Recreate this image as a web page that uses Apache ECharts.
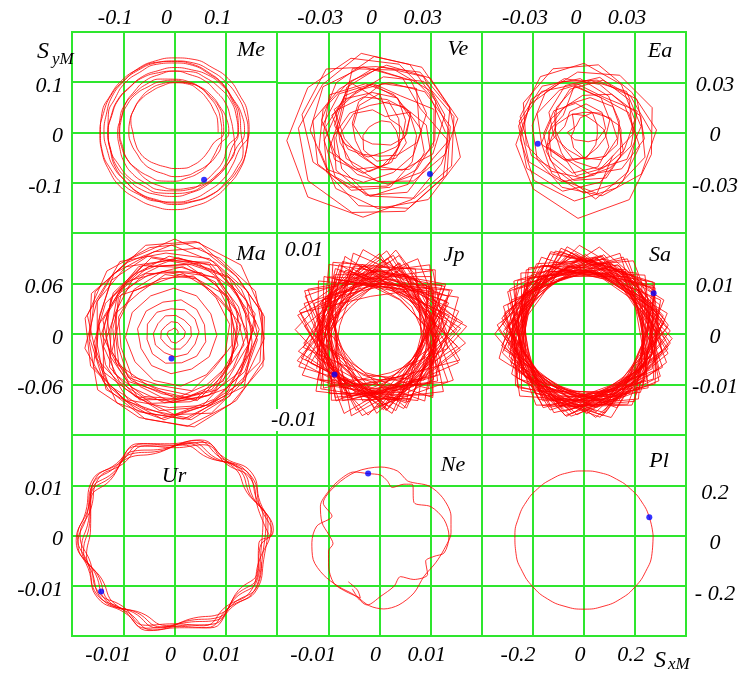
<!DOCTYPE html>
<html><head><meta charset="utf-8">
<script src="https://cdn.jsdelivr.net/npm/echarts@6/dist/echarts.min.js"></script>
<style>html,body{margin:0;padding:0;background:#fff}#c{width:749px;height:673px}</style>
</head><body><div id="c"></div>
<script>
// ---- tick labels (ascending value order) ----
const meXLabels=['-0.1','0','0.1'], meYLabels=['-0.1','0','0.1'];
const veXLabels=['-0.03','0','0.03'];
const eaXLabels=['-0.03','0','0.03'], eaYLabels=['-0.03','0','0.03'];
const maYLabels=['-0.06','0','0.06'];
const jpLabels=['0.01','-0.01'];
const saYLabels=['-0.01','0','0.01'];
const urXLabels=['-0.01','0','0.01'], urYLabels=['-0.01','0','0.01'];
const neXLabels=['-0.01','0','0.01'];
const plXLabels=['-0.2','0','0.2'], plYLabels=['- 0.2','0','0.2'];
const panelNames=['Me','Ve','Ea','Ma','Jp','Sa','Ur','Ne','Pl'];
const axisSteps=[0.1,0.03,0.03,0.06,0.01,0.01,0.01,0.01,0.2];

// ---- orbit samples: radius (axis units) and angle (deg, counter-clockwise from +x) ----
const meR=[.086,.088,.089,.092,.096,.099,.098,.095,.093,.093,.092,.089,.082,.080,.079,.076,.072,.070,.071,.073,.074,.075,.076,.080,
.097,.099,.101,.100,.102,.101,.099,.099,.098,.095,.092,.091,.090,.088,.085,.086,.085,.084,.087,.088,.088,.091,.094,.095,
.093,.094,.097,.098,.102,.104,.105,.109,.110,.110,.112,.111,.109,.108,.107,.103,.100,.099,.096,.093,.093,.092,.090,.092,
.107,.106,.103,.103,.103,.101,.103,.104,.104,.107,.108,.109,.112,.112,.115,.116,.115,.117,.115,.116,.113,.111,.111,.108,
.125,.126,.127,.125,.124,.124,.121,.118,.117,.113,.112,.108,.108,.106,.107,.105,.108,.109,.112,.113,.117,.118,.122,.123,
.116,.114,.116,.115,.118,.118,.121,.122,.125,.126,.129,.129,.131,.130,.132,.130,.130,.127,.126,.123,.122,.119,.118,.117,
.126,.129,.130,.134,.134,.137,.137,.139,.137,.138,.135,.135,.131,.131,.127,.126,.122,.123,.120,.121,.119,.121,.122,.125,
.138,.137,.133,.132,.131,.128,.128,.126,.127,.125,.128,.128,.131,.131,.135,.136,.139,.139,.142,.141,.143,.141,.141,.140,
.131,.133,.132,.135,.136,.139,.140,.143,.144,.146,.146,.148,.146,.147,.145,.144,.141,.140,.137,.136,.133,.133,.131,.132,
.147,.149,.148,.150,.148,.149,.147,.146,.145,.142,.142,.139,.139,.137,.138,.136,.138,.137,.139,.140,.142,.143,.145,.146,
.145,.144,.143,.142,.141,.142,.141,.142,.142,.143,.145,.145,.147,.148,.149,.151,.150,.151,.152,.150,.150,.148,.148,.146,.145];
const meA=[0,15,30,45,60,75,90,105,120,135,150,165,180,195,210,225,240,255,270,285,300,315,330,345,
0,15,30,45,60,75,90,105,120,135,150,165,180,195,210,225,240,255,270,285,300,315,330,345,
0,15,30,45,60,75,90,105,120,135,150,165,180,195,210,225,240,255,270,285,300,315,330,345,
0,15,30,45,60,75,90,105,120,135,150,165,180,195,210,225,240,255,270,285,300,315,330,345,
0,15,30,45,60,75,90,105,120,135,150,165,180,195,210,225,240,255,270,285,300,315,330,345,
0,15,30,45,60,75,90,105,120,135,150,165,180,195,210,225,240,255,270,285,300,315,330,345,
0,15,30,45,60,75,90,105,120,135,150,165,180,195,210,225,240,255,270,285,300,315,330,345,
0,15,30,45,60,75,90,105,120,135,150,165,180,195,210,225,240,255,270,285,300,315,330,345,
0,15,30,45,60,75,90,105,120,135,150,165,180,195,210,225,240,255,270,285,300,315,330,345,
0,15,30,45,60,75,90,105,120,135,150,165,180,195,210,225,240,255,270,285,300,315,330,345,
0,15,30,45,60,75,90,105,120,135,150,165,180,195,210,225,240,255,270,285,300,315,330,345,0];

const veR=[.039,.037,.042,.047,.050,.055,.057,.051,.044,.041,
.047,.044,.040,.035,.036,.037,.042,.045,.049,.050,
.044,.046,.045,.039,.035,.029,.028,.031,.034,.041,
.028,.035,.040,.043,.041,.038,.031,.025,.024,.025,
.021,.020,.023,.028,.033,.037,.038,.035,.029,.024,
.034,.029,.022,.017,.015,.017,.022,.028,.033,.035,
.025,.029,.030,.027,.021,.016,.012,.013,.016,.022,
.010,.014,.019,.023,.025,.024,.019,.014,.010,.009,
.007,.006,.007,.010,.014,.017,.018,.017,.013,.010,
.023,.020,.016,.011,.008,.007,.010,.015,.020,.023,
.024,.029,.032,.031,.026,.019,.014,.012,.014,.019,
.017,.021,.027,.034,.038,.039,.035,.028,.021,.018,
.034,.028,.024,.025,.029,.035,.041,.044,.043,.039,
.049,.047,.043,.037,.032,.031,.033,.038,.044,.048,
.044,.048,.051,.050,.049,.046,.041,.039,.038,.041,
.025,.026,.031,.038,.044,.047,.045,.040,.033,.027,
.030,.022,.016,.014,.017,.023,.030,.036,.038,.035,
.040,.041,.038,.033,.026,.022,.021,.024,.030,.037,
.033,.039,.045,.048,.047,.042,.036,.030,.028,.030,
.021,.018,.020,.026,.034,.040,.042,.039,.033,.025,
.032,.026,.020,.015,.014,.017,.023,.029,.033,.034];
const veA=[0,37,74,111,148,185,222,259,296,333,
10,47,84,121,158,195,232,269,306,343,
20,57,94,131,168,205,242,279,316,353,
30,67,104,141,178,215,252,289,326,3,
40,77,114,151,188,225,262,299,336,13,
50,87,124,161,198,235,272,309,346,23,
60,97,134,171,208,245,282,319,356,33,
70,107,144,181,218,255,292,329,6,43,
80,117,154,191,228,265,302,339,16,53,
90,127,164,201,238,275,312,349,26,63,
100,137,174,211,248,285,322,359,36,73,
110,147,184,221,258,295,332,9,46,83,
120,157,194,231,268,305,342,19,56,93,
130,167,204,241,278,315,352,29,66,103,
140,177,214,251,288,325,2,39,76,113,
150,187,224,261,298,335,12,49,86,123,
160,197,234,271,308,345,22,59,96,133,
170,207,244,281,318,355,32,69,106,143,
180,217,254,291,328,5,42,79,116,153,
190,227,264,301,338,15,52,89,126,163,
200,237,274,311,348,25,62,99,136,173];

const eaR=[.040,.035,.032,.033,.036,.041,.045,.051,.048,.042,
.043,.040,.036,.033,.031,.032,.035,.039,.042,.043,
.037,.041,.042,.040,.035,.030,.027,.026,.029,.034,
.024,.029,.035,.039,.040,.037,.031,.026,.022,.023,
.021,.019,.021,.026,.031,.036,.037,.034,.029,.023,
.028,.022,.017,.015,.018,.023,.030,.034,.035,.031,
.029,.030,.026,.020,.015,.012,.013,.017,.023,.028,
.016,.021,.024,.025,.022,.017,.012,.009,.010,.013,
.006,.008,.011,.016,.019,.020,.018,.013,.009,.006,
.010,.007,.005,.006,.009,.013,.016,.017,.015,.012,
.024,.020,.015,.010,.008,.009,.013,.018,.022,.024,
.026,.029,.030,.026,.021,.015,.012,.013,.017,.023,
.019,.025,.031,.036,.037,.033,.027,.021,.017,.018,
.026,.024,.026,.031,.036,.041,.042,.039,.034,.028,
.040,.035,.031,.029,.030,.034,.037,.038,.041,.041,
.038,.039,.035,.028,.022,.019,.020,.025,.031,.037,
.022,.029,.033,.034,.030,.024,.018,.014,.015,.019,
.021,.022,.026,.032,.037,.039,.037,.032,.026,.022];
const eaA=[0,38,76,114,152,190,228,266,304,342,
20,58,96,134,172,210,248,286,324,2,
40,78,116,154,192,230,268,306,344,22,
60,98,136,174,212,250,288,326,4,42,
80,118,156,194,232,270,308,346,24,62,
100,138,176,214,252,290,328,6,44,82,
120,158,196,234,272,310,348,26,64,102,
140,178,216,254,292,330,8,46,84,122,
160,198,236,274,312,350,28,66,104,142,
180,218,256,294,332,10,48,86,124,162,
200,238,276,314,352,30,68,106,144,182,
220,258,296,334,12,50,88,126,164,202,
240,278,316,354,32,70,108,146,184,222,
260,298,336,14,52,90,128,166,204,242,
280,318,356,34,72,110,148,186,224,262,
300,338,16,54,92,130,168,206,244,282,
320,358,36,74,112,150,188,226,264,302,
340,18,56,94,132,170,208,246,284,322];

const maR=[.004,.005,.006,.007,.006,.008,.009,.008,.010,.011,.010,.012,
.013,.012,.014,.015,.014,.016,.017,.016,.018,.019,.018,.020,
.021,.020,.022,.024,.023,.025,.026,.025,.027,.028,.027,.029,
.030,.031,.030,.033,.034,.033,.035,.036,.035,.037,.038,.037,
.039,.041,.040,.043,.044,.043,.046,.047,.046,.049,.050,.049,
.052,.054,.053,.056,.058,.057,.060,.062,.061,.064,.066,.065,
.072,.067,.070,.067,.077,.075,.072,.083,.075,.083,.078,.082,
.079,.089,.087,.084,.095,.087,.095,.090,.094,.100,.095,.098,
.096,.107,.099,.107,.102,.106,.112,.107,.110,.106,.113,.112,
.110,.101,.107,.106,.097,.102,.092,.098,.098,.088,.095,.089,
.084,.086,.081,.085,.082,.077,.082,.073,.079,.068,.071,.075,
.071,.069,.065,.071,.063,.070,.062,.069,.071,.067,.072,.064,
.078,.073,.077,.074,.081,.083,.080,.086,.079,.091,.092,.085,
.089,.096,.098,.095,.101,.094,.106,.107,.100,.112,.106,.109,
.105,.096,.106,.101,.092,.103,.092,.094,.089,.090,.090,.085,
.086,.077,.088,.077,.079,.074,.075,.076,.070,.071,.064,.074,
.068,.075,.067,.075,.080,.072,.079,.076,.083,.085,.082,.090,
.089,.095,.087,.094,.091,.098,.100,.097,.105,.101,.109,.101,
.112,.107,.110,.106,.111,.108,.100,.106,.100,.101,.091,.097,
.087,.092,.092,.082,.088,.082,.083,.073,.079,.079,.070,.075,
.068,.076,.071,.075,.070,.077,.079,.075,.081,.074,.085,.086,
.086,.082,.089,.091,.087,.093,.086,.097,.098,.091,.103,.098,
.096,.103,.099,.106,.108,.104,.112,.103,.106,.100,.101,.101,
.101,.096,.087,.097,.086,.088,.082,.083,.083,.077,.078,.070,
.081,.072,.076,.071,.078,.080,.076,.082,.075,.086,.087,.080,
.083,.090,.092,.088,.094,.087,.098,.099,.092,.104,.099,.103,
.098,.089,.098,.093,.084,.094,.083,.086,.080,.081,.082,.076];
const maA=[0,31,62,93,124,155,186,217,248,279,310,341,
12,43,74,105,136,167,198,229,260,291,322,353,
24,55,86,117,148,179,210,241,272,303,334,5,
36,67,98,129,160,191,222,253,284,315,346,17,
48,79,110,141,172,203,234,265,296,327,358,29,
60,91,122,153,184,215,246,277,308,339,10,41,
72,103,134,165,196,227,258,289,320,351,22,53,
84,115,146,177,208,239,270,301,332,3,34,65,
96,127,158,189,220,251,282,313,344,15,46,77,
108,139,170,201,232,263,294,325,356,27,58,89,
120,151,182,213,244,275,306,337,8,39,70,101,
132,163,194,225,256,287,318,349,20,51,82,113,
144,175,206,237,268,299,330,1,32,63,94,125,
156,187,218,249,280,311,342,13,44,75,106,137,
168,199,230,261,292,323,354,25,56,87,118,149,
180,211,242,273,304,335,6,37,68,99,130,161,
192,223,254,285,316,347,18,49,80,111,142,173,
204,235,266,297,328,359,30,61,92,123,154,185,
216,247,278,309,340,11,42,73,104,135,166,197,
228,259,290,321,352,23,54,85,116,147,178,209,
240,271,302,333,4,35,66,97,128,159,190,221,
252,283,314,345,16,47,78,109,140,171,202,233,
264,295,326,357,28,59,90,121,152,183,214,245,
276,307,338,9,40,71,102,133,164,195,226,257,
288,319,350,21,52,83,114,145,176,207,238,269,
300,331,2,33,64,95,126,157,188,219,250,281,
312,343,14,45,76,107,138,169,200,231,262,293];

const jpR=[.0132,.0098,.0155,.0121,.0087,.0163,.0110,.0145,.0093,.0170,
.0128,.0081,.0149,.0115,.0166,.0102,.0138,.0090,.0159,.0124,
.0107,.0168,.0134,.0085,.0152,.0119,.0096,.0161,.0141,.0112,
.0078,.0147,.0126,.0171,.0101,.0135,.0089,.0157,.0118,.0164,
.0139,.0092,.0150,.0109,.0172,.0125,.0083,.0143,.0104,.0160,
.0116,.0154,.0097,.0133,.0167,.0088,.0129,.0146,.0111,.0079,
.0158,.0122,.0140,.0094,.0165,.0113,.0151,.0086,.0136,.0169,
.0103,.0144,.0127,.0082,.0156,.0119,.0162,.0099,.0131,.0148,
.0091,.0166,.0117,.0137,.0080,.0153,.0124,.0170,.0106,.0142,
.0130,.0095,.0159,.0114,.0148,.0084,.0163,.0121,.0139,.0100,
.0157,.0127,.0087,.0145,.0171,.0108,.0134,.0093,.0150,.0118,
.0165,.0102,.0141,.0123,.0077,.0155,.0112,.0168,.0129,.0090,
.0146,.0116,.0160,.0097,.0135,.0152,.0085,.0126,.0162,.0105,
.0120,.0171,.0109,.0143,.0089,.0158,.0131,.0098,.0149,.0114,
.0083,.0138,.0164,.0111,.0154,.0125,.0092,.0167,.0103,.0136,
.0151,.0096,.0128,.0169,.0115,.0081,.0144,.0122,.0159,.0108,
.0134,.0161,.0090,.0147,.0106,.0170,.0119,.0140,.0086,.0156,
.0099,.0124,.0153,.0079,.0137,.0163,.0112,.0148,.0127,.0094,
.0167,.0110,.0142,.0121,.0158,.0088,.0133,.0104,.0165,.0117,
.0145,.0084,.0130,.0160,.0100,.0150,.0123,.0172,.0095,.0139,
.0113,.0157,.0103,.0135,.0168,.0091,.0147,.0118,.0082,.0153,
.0126,.0164,.0098,.0144,.0111,.0139,.0076,.0161,.0132,.0107,
.0155,.0089,.0136,.0166,.0120,.0101,.0152,.0128,.0146,.0087,
.0170,.0117,.0142,.0093,.0159,.0131,.0108,.0164,.0097,.0148,
.0124,.0080,.0151,.0115,.0137,.0169,.0105,.0143,.0128,.0162,
.0092,.0140,.0119,.0157,.0085,.0133,.0166,.0110,.0150,.0125,
.0160,.0101,.0145,.0078,.0154,.0122,.0138,.0171,.0094,.0131,
.0116,.0149,.0086,.0163,.0127,.0104,.0158,.0135,.0112,.0167,
.0143,.0096,.0152,.0121,.0082,.0146,.0168,.0100,.0139,.0118,
.0155,.0130,.0090,.0161,.0114,.0147,.0106,.0164,.0125,.0141];
const jpA=[0,62,124,186,248,310,12,74,136,198,260,322,24,86,148,210,272,334,36,98,160,222,284,346,48,110,172,234,296,358,
60,122,184,246,308,10,72,134,196,258,320,22,84,146,208,270,332,34,96,158,220,282,344,46,108,170,232,294,356,
58,120,182,244,306,8,70,132,194,256,318,20,82,144,206,268,330,32,94,156,218,280,342,44,106,168,230,292,354,
56,118,180,242,304,6,68,130,192,254,316,18,80,142,204,266,328,30,92,154,216,278,340,42,104,166,228,290,352,
54,116,178,240,302,4,66,128,190,252,314,16,78,140,202,264,326,28,90,152,214,276,338,40,102,164,226,288,350,
52,114,176,238,300,2,64,126,188,250,312,14,76,138,200,262,324,26,88,150,212,274,336,38,100,162,224,286,348,
50,112,174,236,298,
31,93,155,217,279,341,43,105,167,229,291,353,55,117,179,241,303,5,67,129,191,253,315,17,79,141,203,265,327,29,
91,153,215,277,339,41,103,165,227,289,351,53,115,177,239,301,3,65,127,189,251,313,15,77,139,201,263,325,27,
89,151,213,275,337,39,101,163,225,287,349,51,113,175,237,299,1,63,125,187,249,311,13,75,137,199,261,323,25,
87,149,211,273,335,37,99,161,223,285,347,49,111,173,235,297,359,61,123,185,247,309,11,73,135,197,259,321,23,
85,147,209];

const saR=[.0150,.0128,.0169,.0137,.0119,.0158,.0143,.0174,.0124,.0162,
.0133,.0155,.0116,.0147,.0171,.0129,.0160,.0139,.0121,.0166,
.0145,.0118,.0153,.0175,.0131,.0141,.0164,.0122,.0157,.0136,
.0126,.0168,.0148,.0115,.0159,.0134,.0172,.0144,.0120,.0152,
.0163,.0130,.0140,.0167,.0123,.0156,.0117,.0149,.0173,.0135,
.0119,.0154,.0170,.0127,.0146,.0161,.0132,.0114,.0158,.0142,
.0176,.0138,.0125,.0151,.0165,.0121,.0143,.0169,.0129,.0155,
.0134,.0160,.0147,.0118,.0172,.0140,.0127,.0163,.0150,.0116,
.0157,.0124,.0166,.0136,.0153,.0115,.0174,.0131,.0145,.0168,
.0122,.0149,.0139,.0170,.0128,.0162,.0144,.0120,.0156,.0135,
.0171,.0133,.0117,.0158,.0147,.0125,.0167,.0152,.0130,.0161,
.0141,.0164,.0154,.0123,.0137,.0175,.0118,.0148,.0166,.0126,
.0150,.0119,.0173,.0143,.0131,.0157,.0139,.0169,.0121,.0146,
.0162,.0136,.0128,.0165,.0115,.0151,.0172,.0134,.0155,.0124,
.0127,.0159,.0145,.0118,.0168,.0140,.0125,.0160,.0148,.0174,
.0138,.0121,.0163,.0152,.0129,.0170,.0142,.0117,.0158,.0132,
.0165,.0147,.0124,.0137,.0175,.0120,.0156,.0144,.0130,.0161,
.0116,.0153,.0171,.0129,.0149,.0163,.0135,.0167,.0122,.0143,
.0154,.0132,.0141,.0168,.0119,.0146,.0173,.0127,.0159,.0138,
.0170,.0125,.0157,.0134,.0161,.0114,.0150,.0139,.0166,.0123,
.0131,.0164,.0118,.0148,.0172,.0136,.0126,.0155,.0142,.0169,
.0146,.0120,.0160,.0174,.0128,.0153,.0141,.0117,.0163,.0133,
.0158,.0137,.0129,.0151,.0167,.0122,.0171,.0145,.0124,.0156,
.0119,.0166,.0143,.0135,.0115,.0160,.0148,.0176,.0132,.0140,
.0162,.0127,.0173,.0121,.0155,.0138,.0118,.0164,.0152,.0130,
.0144,.0157,.0134,.0168,.0126,.0149,.0170,.0123,.0141,.0165,
.0125,.0139,.0161,.0116,.0159,.0132,.0147,.0172,.0120,.0154,
.0167,.0148,.0122,.0145,.0174,.0128,.0137,.0156,.0163,.0117,
.0136,.0171,.0150,.0127,.0140,.0165,.0119,.0153,.0131,.0160,
.0152,.0118,.0142,.0169,.0135,.0121,.0162,.0144,.0175,.0129,
.0123,.0160,.0137,.0155,.0147,.0173,.0126,.0139,.0158,.0115,
.0164,.0134,.0170,.0120,.0152,.0143,.0167,.0118,.0146,.0157,
.0141,.0126,.0149,.0166,.0117,.0159,.0135,.0172,.0128,.0150,
.0169,.0145,.0121,.0138,.0163,.0130,.0154,.0124,.0168,.0142,
.0128,.0156,.0174,.0132,.0148,.0116,.0161,.0151,.0137,.0165,
.0147,.0120,.0158,.0170,.0125,.0153,.0140,.0166,.0119,.0155];
const saA=[0,51,102,153,204,255,306,357,48,99,150,201,252,303,354,45,96,147,198,249,300,351,42,93,144,195,246,297,348,39,90,141,192,243,294,345,
36,87,138,189,240,291,342,33,84,135,186,237,288,339,30,81,132,183,234,285,336,27,78,129,180,231,282,333,24,75,126,177,228,279,330,
21,72,123,174,225,276,327,18,69,120,171,222,273,324,15,66,117,168,219,270,321,12,63,114,165,216,267,318,9,60,111,162,213,264,315,
6,57,108,159,210,261,312,3,54,105,156,207,258,309,
17,68,119,170,221,272,323,14,65,116,167,218,269,320,11,62,113,164,215,266,317,8,59,110,161,212,263,314,5,56,107,158,209,260,311,2,
53,104,155,206,257,308,359,50,101,152,203,254,305,356,47,98,149,200,251,302,353,44,95,146,197,248,299,350,41,92,143,194,245,296,347,
38,89,140,191,242,293,344,35,86,137,188,239,290,341,32,83,134,185,236,287,338,29,80,131,182,233,284,335,26,77,128,179,230,281,332,
23,74,125,176,227,278,329,20,71,122,173,224,275,326,
34,85,136,187,238,289,340,31,82,133,184,235,286,337,28,79,130,181,232,283,334,25,76,127,178,229,280,331,22,73,124,175,226,277,328,19,
70,121,172,223,274,325,16,67,118,169,220,271,322,13,64,115,166,217,268,319,10,61,112,163,214,265,316,7,58,109,160,211,262,313,4,
55,106,157,208,259,310,1,52,103,154,205,256,307,358,49,100,151,202,253,304,355,46,97,148,199,250,301,352,43,94,145,196,247,298,349,
40,91,142,193,244,295,346,37,88,139,190,241,292,343];

const urR=[.0187,.0173,.0187,.0174,.0188,.0173,.0186,.0174,.0187,.0173,.0186,.0174,.0187,.0173,.0186,.0174,.0187,.0173,.0186,.0174,
.0191,.0177,.0190,.0178,.0192,.0177,.0191,.0178,.0190,.0177,.0191,.0178,.0190,.0177,.0191,.0178,.0190,.0177,.0191,.0178,
.0183,.0169,.0182,.0170,.0183,.0169,.0182,.0170,.0183,.0169,.0182,.0170,.0183,.0169,.0182,.0170,.0183,.0169,.0182,.0170,
.0195,.0181,.0196,.0182,.0195,.0181,.0194,.0182,.0195,.0181,.0194,.0182,.0195,.0181,.0194,.0182,.0195,.0181,.0194,.0182,
.0186,.0172,.0185,.0173,.0186,.0172,.0185,.0173,.0186,.0172,.0185,.0173,.0186,.0172,.0185,.0173,.0186,.0172,.0185,.0173,
.0179,.0166,.0178,.0167,.0179,.0166,.0178,.0167,.0179,.0166,.0178,.0167,.0179,.0166,.0178,.0167,.0179,.0166,.0178,.0167,
.0192,.0178,.0191,.0179,.0192,.0178,.0191,.0179,.0192,.0178,.0191,.0179,.0192,.0178,.0191,.0179,.0192,.0178,.0191,.0179];
const urA=[0,18,36,54,72,90,108,126,144,162,180,198,216,234,252,270,288,306,324,342,
5,23,41,59,77,95,113,131,149,167,185,203,221,239,257,275,293,311,329,347,
10,28,46,64,82,100,118,136,154,172,190,208,226,244,262,280,298,316,334,352,
3,21,39,57,75,93,111,129,147,165,183,201,219,237,255,273,291,309,327,345,
8,26,44,62,80,98,116,134,152,170,188,206,224,242,260,278,296,314,332,350,
13,31,49,67,85,103,121,139,157,175,193,211,229,247,265,283,301,319,337,355,
1,19,37,55,73,91,109,127,145,163,181,199,217,235,253,271,289,307,325,343];

const neR=[.0110,.0116,
.0129,.0129,.0130,.0117,.0105,.0093,.0100,.0116,.0130,.0133,.0135,.0135,
.0124,.0119,.0109,.0098,.0112,.0120,.0094,.0116,.0131,.0137,.0132,.0115,.0104,.0122,.0110,.0091,.0104,.0120,
.0139,.0127,.0129,.0135,.0139,.0134,.0125,.0101,.0128,.0131,.0134,
.0135,.0132,.0121,.0124,.0138,.0145,.0146,.0141,.0130,.0123,.0119,.0132,.0142,.0145,
.0140,.0128,.0118];
const neA=[236,248,
253,237,226,211,197,190,179,167.5,153.6,138.8,124.9,112,
100.4,89,82,75,64.5,57.4,43.6,29.3,14,359.5,345,339,331,321,308,297,286,271,
260,246.5,231,215,200,186,171.5,157.8,150,131,110,
89,74.6,63,56.9,45,31,15.2,2.2,347.7,334,317.5,301,285.6,273.4,
262,250,243];

const plR=[.273,.268,.264,.260,.257,.256,.255,.256,.257,.260,.264,.268,.273,.278,.282,.286,.289,.290,.291,.290,.289,.286,.282,.278,.273];
const plA=[0,15,30,45,60,75,90,105,120,135,150,165,180,195,210,225,240,255,270,285,300,315,330,345,360];

// current positions (blue dots): [radius, angle]
const meDot=[.110,302], veDot=[.0386,320.6], eaDot=[.0282,193.8], maDot=[.029,263], jpDot=[.0119,222],
      saDot=[.0159,30.3], urDot=[.0182,217.4], neDot=[.0124,100.4], plDot=[.268,15.7];

// ---- layout / style ----
const GREEN='#2ee62e';
const SERIF='"Liberation Serif","Times New Roman","DejaVu Serif",serif';
const F={fontFamily:SERIF,fontStyle:'italic',fontSize:22,color:'#000'};
const cols=[[72,205],[277,205],[482,204]];
const rows=[[32,201],[233,202],[435,201]];

const panels=[
 {r:meR,a:meA,dot:meDot,smooth:0.5,x:meXLabels,xPos:'top',y:meYLabels,yPos:'left'},
 {r:veR,a:veA,dot:veDot,smooth:false,x:veXLabels,xPos:'top'},
 {r:eaR,a:eaA,dot:eaDot,smooth:false,x:eaXLabels,xPos:'top',y:eaYLabels,yPos:'right',yShift:3},
 {r:maR,a:maA,dot:maDot,smooth:false,y:maYLabels,yPos:'left'},
 {r:jpR,a:jpA,dot:jpDot,smooth:false},
 {r:saR,a:saA,dot:saDot,smooth:false,y:saYLabels,yPos:'right',yShift:3},
 {r:urR,a:urA,dot:urDot,smooth:0.5,x:urXLabels,xPos:'bottom',y:urYLabels,yPos:'left'},
 {r:neR,a:neA,dot:neDot,smooth:0.3,x:neXLabels,xPos:'bottom'},
 {r:plR,a:plA,dot:plDot,smooth:0.5,x:plXLabels,xPos:'bottom',y:plYLabels,yPos:'right',yShift:8}
];
const namePos=[[251,50],[458,49],[660,51],[251,254],[454,255],[660,255],[174,476],[453,465],[659,461]];

function pick(labels,step,v){const k=Math.round(v/step);return (k<-1||k>1)?null:{k,s:labels[k+1]};}

const grid=[],xAxis=[],yAxis=[],polar=[],angleAxis=[],radiusAxis=[],series=[],graphic=[];
panels.forEach((p,i)=>{
  const [left,width]=cols[i%3],[top,height]=rows[Math.floor(i/3)];
  const step=axisSteps[i],lim=2*step;
  grid.push({left,top,width,height,show:true,borderColor:GREEN,borderWidth:2,backgroundColor:'transparent'});
  const top_=p.xPos==='top';
  xAxis.push({gridIndex:i,type:'value',min:-lim,max:lim,interval:step,position:p.xPos||'bottom',
    axisLine:{show:false},axisTick:{show:false},splitLine:{show:true,lineStyle:{color:GREEN,width:2}},
    axisLabel:p.x?Object.assign({show:true,margin:top_?3:8,
      formatter:v=>{const t=pick(p.x,step,v);if(!t)return '';return '{'+(t.k<0?'n':'p')+'|'+t.s+'}';},
      rich:{n:Object.assign({},F,{padding:[0,top_?16:30,0,0]}),p:Object.assign({},F,{padding:[0,top_?16:8,0,0]})}},F):{show:false}});
  const right=p.yPos==='right', sh=(p.yShift||4)*2;
  yAxis.push({gridIndex:i,type:'value',min:-lim,max:lim,interval:step,position:p.yPos||'left',
    axisLine:{show:false},axisTick:{show:false},splitLine:{show:true,lineStyle:{color:GREEN,width:2}},
    axisLabel:p.y?Object.assign({show:true,margin:right?29:9,align:right?'center':'right',
      formatter:v=>{const t=pick(p.y,step,v);if(!t)return '';return '{p|'+t.s+'}';},
      rich:{p:Object.assign({},F,{padding:[sh,0,0,0]})}},F):{show:false}});
  polar.push({center:[left+width/2,top+height/2],radius:(width+height)/4});
  angleAxis.push({polarIndex:i,type:'value',min:0,max:360,startAngle:0,clockwise:false,show:false,
    axisLine:{show:false},axisTick:{show:false},axisLabel:{show:false},splitLine:{show:false}});
  radiusAxis.push({polarIndex:i,type:'value',min:0,max:lim,show:false,
    axisLine:{show:false},axisTick:{show:false},axisLabel:{show:false},splitLine:{show:false}});
  series.push({type:'line',coordinateSystem:'polar',polarIndex:i,data:p.r.map((r,k)=>[r,p.a[k]]),
    showSymbol:false,symbol:'none',smooth:p.smooth,clip:false,silent:true,
    lineStyle:{color:'#ff0000',width:1,opacity:0.8},z:3});
  series.push({type:'scatter',coordinateSystem:'polar',polarIndex:i,data:[p.dot],symbolSize:6,
    itemStyle:{color:'#0000ff'},silent:true,z:5});
  graphic.push({type:'text',x:namePos[i][0],y:namePos[i][1],z:10,
    style:{text:panelNames[i],font:'italic 22px '+SERIF,fill:'#000',align:'center',verticalAlign:'middle',textAlign:'center',textVerticalAlign:'middle'}});
});
graphic.push({type:'text',x:304,y:250,z:10,style:{text:jpLabels[0],font:'italic 22px '+SERIF,fill:'#000',align:'center',verticalAlign:'middle',textAlign:'center',textVerticalAlign:'middle',backgroundColor:'#fff'}});
graphic.push({type:'text',x:294,y:420,z:10,style:{text:jpLabels[1],font:'italic 22px '+SERIF,fill:'#000',align:'center',verticalAlign:'middle',textAlign:'center',textVerticalAlign:'middle',backgroundColor:'#fff'}});
graphic.push({type:'text',x:37,y:52,z:10,style:{text:'S',font:'italic 24px '+SERIF,fill:'#000',align:'left',verticalAlign:'middle'}});
graphic.push({type:'text',x:52,y:60,z:10,style:{text:'yM',font:'italic 17px '+SERIF,fill:'#000',align:'left',verticalAlign:'middle'}});
graphic.push({type:'text',x:654,y:661,z:10,style:{text:'S',font:'italic 24px '+SERIF,fill:'#000',align:'left',verticalAlign:'middle'}});
graphic.push({type:'text',x:668,y:665,z:10,style:{text:'xM',font:'italic 17px '+SERIF,fill:'#000',align:'left',verticalAlign:'middle'}});

const chart=echarts.init(document.getElementById('c'),null,{renderer:'canvas'});
chart.setOption({animation:false,backgroundColor:'#fff',grid,xAxis,yAxis,polar,angleAxis,radiusAxis,series,graphic});
</script>
</body></html>
